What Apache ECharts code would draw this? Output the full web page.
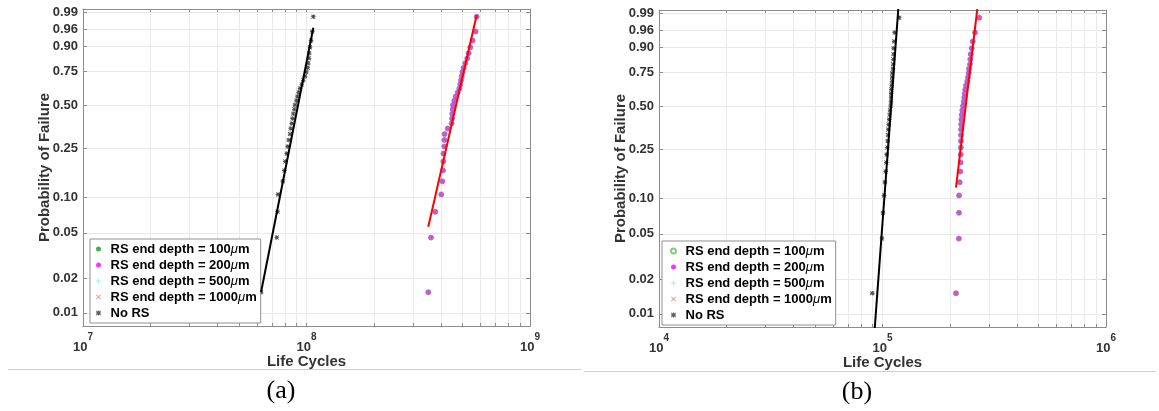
<!DOCTYPE html>
<html>
<head>
<meta charset="utf-8">
<script src="https://cdn.jsdelivr.net/npm/echarts@6/dist/echarts.min.js"></script>
<style>
  html, body { margin: 0; padding: 0; background: #fff; }
  #chart { width: 1159px; height: 411px; }
</style>
</head>
<body>
<div id="chart"></div>
<script>
// Median-rank plotting positions (i - 0.5) / n, n = 33 specimens
const failProb = [0.0152, 0.0455, 0.0758, 0.1061, 0.1364, 0.1667, 0.1970, 0.2273, 0.2576, 0.2879,
  0.3182, 0.3485, 0.3788, 0.4091, 0.4394, 0.4697, 0.5000, 0.5303, 0.5606, 0.5909,
  0.6212, 0.6515, 0.6818, 0.7121, 0.7424, 0.7727, 0.8030, 0.8333, 0.8636, 0.8939,
  0.9242, 0.9545, 0.9848];

// (a) life cycles, sorted
const lifeNoRS_A = [6.26e7, 7.36e7, 7.42e7, 7.46e7, 7.83e7, 7.96e7, 8.04e7, 8.16e7, 8.24e7, 8.33e7,
  8.44e7, 8.50e7, 8.59e7, 8.66e7, 8.73e7, 8.82e7, 8.88e7, 9.02e7, 9.10e7, 9.23e7,
  9.35e7, 9.52e7, 9.68e7, 9.85e7, 9.98e7, 1.012e8, 1.019e8, 1.026e8, 1.029e8, 1.037e8,
  1.048e8, 1.062e8, 1.073e8];
const lifeRS_A = [3.507e8, 3.606e8, 3.770e8, 4.011e8, 4.052e8, 4.080e8, 4.094e8, 4.100e8, 4.137e8, 4.140e8,
  4.150e8, 4.284e8, 4.460e8, 4.480e8, 4.490e8, 4.510e8, 4.524e8, 4.585e8, 4.652e8, 4.749e8,
  4.828e8, 4.878e8, 4.913e8, 4.950e8, 4.989e8, 5.050e8, 5.134e8, 5.241e8, 5.317e8, 5.406e8,
  5.541e8, 5.715e8, 5.774e8];
// (b) life cycles, sorted
const lifeNoRS_B = [9.003e4, 9.949e4, 1.005e5, 1.016e5, 1.026e5, 1.033e5, 1.040e5, 1.044e5, 1.051e5, 1.055e5,
  1.058e5, 1.061e5, 1.066e5, 1.072e5, 1.076e5, 1.080e5, 1.088e5, 1.091e5, 1.092e5, 1.093e5,
  1.095e5, 1.099e5, 1.103e5, 1.105e5, 1.106e5, 1.114e5, 1.116e5, 1.118e5, 1.120e5, 1.122e5,
  1.128e5, 1.134e5, 1.189e5];
const lifeRS_B = [2.132e5, 2.196e5, 2.199e5, 2.201e5, 2.215e5, 2.229e5, 2.236e5, 2.238e5, 2.242e5, 2.244e5,
  2.245e5, 2.247e5, 2.250e5, 2.253e5, 2.262e5, 2.276e5, 2.292e5, 2.309e5, 2.323e5, 2.333e5,
  2.347e5, 2.364e5, 2.396e5, 2.413e5, 2.430e5, 2.438e5, 2.463e5, 2.471e5, 2.481e5, 2.507e5,
  2.533e5, 2.594e5, 2.711e5];

// Weibull fit reference lines: [cycles, probability] at both ends
const fitNoRS_A = [[6.26e7, 0.0152], [1.073e8, 0.9647]];
const fitRS_A = [[3.507e8, 0.0564], [5.774e8, 0.9869]];
const fitNoRS_B = [[9.003e4, 0.00384], [1.189e5, 0.99862]];
const fitRS_B = [[2.132e5, 0.1231], [2.711e5, 0.9991]];

// Axis ticks
const yTickProbs = [0.01, 0.02, 0.05, 0.10, 0.25, 0.50, 0.75, 0.90, 0.96, 0.99];
const yTickLabels = ['0.01', '0.02', '0.05', '0.10', '0.25', '0.50', '0.75', '0.90', '0.96', '0.99'];
const yLimProb = [0.00767, 0.9925];
const xDecadesA = [7, 8, 9];
const xDecadesB = [4, 5, 6];
const minorMult = [2, 3, 4, 5, 6, 7, 8, 9];

const seriesNames = ['RS end depth = 100μm', 'RS end depth = 200μm', 'RS end depth = 500μm',
  'RS end depth = 1000μm', 'No RS'];

// Weibull probability scale
const weib = p => Math.log(-Math.log(1 - p));
const toPts = (life) => life.map((x, i) => [Math.log10(x), weib(failProb[i])]);
const toLine = (fit) => fit.map(d => [Math.log10(d[0]), weib(d[1])]);

const FONT = 'Liberation Sans';
const AXIS_COLOR = '#8c8c8c';
const LABEL_COLOR = '#333';

const ASTERISK = 'path://M4,0 L6,0 L6,4 L10,4 L10,6 L6,6 L6,10 L4,10 L4,6 L0,6 L0,4 L4,4 Z ' +
  'M1.4,0 L5,3.6 L8.6,0 L10,1.4 L6.4,5 L10,8.6 L8.6,10 L5,6.4 L1.4,10 L0,8.6 L3.6,5 L0,1.4 Z';
const PLUS = 'path://M2,0 L3,0 L3,2 L5,2 L5,3 L3,3 L3,5 L2,5 L2,3 L0,3 L0,2 L2,2 Z';
const CROSS = 'path://M0,0.7 L0.7,0 L2.5,1.8 L4.3,0 L5,0.7 L3.2,2.5 L5,4.3 L4.3,5 L2.5,3.2 L0.7,5 L0,4.3 L1.8,2.5 Z';

function xTickValues(decades) {
  const v = [];
  decades.forEach((d, i) => {
    v.push(d);
    if (i < decades.length - 1) minorMult.forEach(m => v.push(d + Math.log10(m)));
  });
  return v;
}

const yTickW = yTickProbs.map(weib);
const yMin = weib(yLimProb[0]);
const yMax = weib(yLimProb[1]);

function buildAxes(gridIndex, decades) {
  const ticks = xTickValues(decades);
  const xs = [
    {
      type: 'value', gridIndex, position: 'bottom',
      min: decades[0], max: decades[decades.length - 1],
      axisLine: { show: true, onZero: false, lineStyle: { color: AXIS_COLOR, width: 1 } },
      axisTick: { show: true, inside: true, length: 3, customValues: ticks, lineStyle: { color: AXIS_COLOR } },
      splitLine: { show: true, lineStyle: { color: '#ebebeb', width: 1 } },
      axisLabel: {
        customValues: decades, margin: 6,
        formatter: v => '{b|10}{sup|' + Math.round(v) + '}',
        rich: {
          b: { fontFamily: FONT, fontSize: 13, fontWeight: 'bold', color: LABEL_COLOR, lineHeight: 22, verticalAlign: 'bottom' },
          sup: { fontFamily: FONT, fontSize: 10, fontWeight: 'bold', color: LABEL_COLOR, lineHeight: 11, verticalAlign: 'top' }
        }
      },
      name: 'Life Cycles', nameLocation: 'middle', nameGap: 28, nameMoveOverlap: false,
      nameTextStyle: { fontFamily: FONT, fontSize: 15, fontWeight: 'bold', color: LABEL_COLOR, verticalAlign: 'top' }
    },
    {
      type: 'value', gridIndex, position: 'top',
      min: decades[0], max: decades[decades.length - 1],
      axisLine: { show: true, onZero: false, lineStyle: { color: AXIS_COLOR, width: 1 } },
      axisTick: { show: true, inside: true, length: 3, customValues: ticks, lineStyle: { color: AXIS_COLOR } },
      splitLine: { show: false }, axisLabel: { show: false }
    }
  ];
  const ys = [
    {
      type: 'value', gridIndex, position: 'left', min: yMin, max: yMax,
      axisLine: { show: true, onZero: false, lineStyle: { color: AXIS_COLOR, width: 1 } },
      axisTick: { show: true, inside: true, length: 4, customValues: yTickW, lineStyle: { color: AXIS_COLOR } },
      splitLine: { show: true, lineStyle: { color: '#e8e8e8', width: 1 } },
      axisLabel: {
        customValues: yTickW, margin: 5,
        fontFamily: FONT, fontSize: 13, fontWeight: 'bold', color: LABEL_COLOR,
        formatter: v => {
          const k = yTickW.findIndex(w => Math.abs(w - v) < 1e-6);
          return k >= 0 ? yTickLabels[k] : '';
        }
      },
      name: 'Probability of Failure', nameLocation: 'middle', nameGap: 31, nameMoveOverlap: false,
      nameTextStyle: { fontFamily: FONT, fontSize: 15, fontWeight: 'bold', color: LABEL_COLOR }
    },
    {
      type: 'value', gridIndex, position: 'right', min: yMin, max: yMax,
      axisLine: { show: true, onZero: false, lineStyle: { color: AXIS_COLOR, width: 1 } },
      axisTick: { show: true, inside: true, length: 4, customValues: yTickW, lineStyle: { color: AXIS_COLOR } },
      splitLine: { show: false }, axisLabel: { show: false }
    }
  ];
  return { xs, ys };
}

const axA = buildAxes(0, xDecadesA);
const axB = buildAxes(1, xDecadesB);

const RS_DOT = { color: '#c030b4', borderColor: '#a068d2', borderWidth: 1 };

function panelSeries(xi, yi, lifeNoRS, lifeRS, fitNoRS, fitRS) {
  return [
    { name: seriesNames[0], type: 'scatter', xAxisIndex: xi, yAxisIndex: yi, data: [],
      symbol: 'circle', symbolSize: 5, itemStyle: { color: '#1a9a1a' } },
    { name: seriesNames[1], type: 'scatter', xAxisIndex: xi, yAxisIndex: yi, data: toPts(lifeRS),
      symbol: 'circle', symbolSize: 5, itemStyle: RS_DOT, z: 3 },
    { name: seriesNames[2], type: 'scatter', xAxisIndex: xi, yAxisIndex: yi, data: [],
      symbol: PLUS, symbolSize: 5, itemStyle: { color: '#33e0f0' } },
    { name: seriesNames[3], type: 'scatter', xAxisIndex: xi, yAxisIndex: yi, data: [],
      symbol: CROSS, symbolSize: 5, itemStyle: { color: '#f06a6a' } },
    { name: seriesNames[4], type: 'scatter', xAxisIndex: xi, yAxisIndex: yi, data: toPts(lifeNoRS),
      symbol: ASTERISK, symbolSize: 4.5, itemStyle: { color: '#262626' }, z: 3 },
    { name: 'fitNoRS', type: 'line', xAxisIndex: xi, yAxisIndex: yi, data: toLine(fitNoRS),
      showSymbol: false, symbol: 'none', lineStyle: { color: '#000', width: 2 }, z: 4 },
    { name: 'fitRS', type: 'line', xAxisIndex: xi, yAxisIndex: yi, data: toLine(fitRS),
      showSymbol: false, symbol: 'none', lineStyle: { color: '#ff0000', width: 2 }, z: 4 }
  ];
}

function legendFor(left, top, pad, filled100) {
  return {
    orient: 'vertical', left, top, padding: pad,
    backgroundColor: '#fff', borderColor: '#8f8f8f', borderWidth: 1, borderRadius: 0,
    itemGap: 0, itemWidth: 14, itemHeight: 5, selectedMode: false,
    formatter: n => n.replace('μm', '{mu|μ}m'),
    textStyle: {
      fontFamily: FONT, fontSize: 13, fontWeight: 'bold', color: '#000', lineHeight: 16,
      rich: { mu: { fontFamily: FONT, fontSize: 13, fontStyle: 'italic', fontWeight: 'normal', color: '#000', lineHeight: 16 } }
    },
    data: [
      filled100
        ? { name: seriesNames[0], icon: 'circle', itemStyle: { color: '#1a9a1a', borderWidth: 0 } }
        : { name: seriesNames[0], icon: 'emptyCircle', itemStyle: { color: '#6cbf6c', borderColor: '#6cbf6c', borderWidth: 1 } },
      { name: seriesNames[1], icon: 'circle', itemStyle: { color: '#ff00ff', borderWidth: 0 } },
      { name: seriesNames[2], icon: PLUS, itemStyle: { color: '#7ff0ff', borderWidth: 0 } },
      { name: seriesNames[3], icon: CROSS, itemStyle: { color: '#f08080', borderWidth: 0 } },
      { name: seriesNames[4], icon: ASTERISK, itemStyle: { color: '#333', borderWidth: 0 } }
    ]
  };
}

const chart = echarts.init(document.getElementById('chart'), null, { renderer: 'canvas' });
chart.setOption({
  animation: false,
  backgroundColor: '#fff',
  grid: [
    { left: 83, top: 9, width: 447, height: 317, outerBoundsMode: 'none', containLabel: false },
    { left: 659, top: 10, width: 447, height: 317, outerBoundsMode: 'none', containLabel: false }
  ],
  xAxis: [...axA.xs, ...axB.xs],
  yAxis: [...axA.ys, ...axB.ys],
  legend: [
    legendFor(90, 239, [2, 4, 2, 6], true),
    legendFor(662, 241, [2, 4, 2, 8], false)
  ],
  series: [
    ...panelSeries(0, 0, lifeNoRS_A, lifeRS_A, fitNoRS_A, fitRS_A),
    ...panelSeries(2, 2, lifeNoRS_B, lifeRS_B, fitNoRS_B, fitRS_B)
  ],
  graphic: [
    { type: 'line', shape: { x1: 8, y1: 369.5, x2: 581, y2: 369.5 }, style: { stroke: '#cfcfcf', lineWidth: 1 }, silent: true },
    { type: 'line', shape: { x1: 584, y1: 371.5, x2: 1156, y2: 371.5 }, style: { stroke: '#cfcfcf', lineWidth: 1 }, silent: true },
    { type: 'text', x: 281, y: 391, silent: true,
      style: { text: '(a)', font: '26px "Liberation Serif"', fill: '#000', align: 'center', verticalAlign: 'middle', textAlign: 'center', textVerticalAlign: 'middle' } },
    { type: 'text', x: 857, y: 392, silent: true,
      style: { text: '(b)', font: '26px "Liberation Serif"', fill: '#000', align: 'center', verticalAlign: 'middle', textAlign: 'center', textVerticalAlign: 'middle' } }
  ]
});
</script>
</body>
</html>
